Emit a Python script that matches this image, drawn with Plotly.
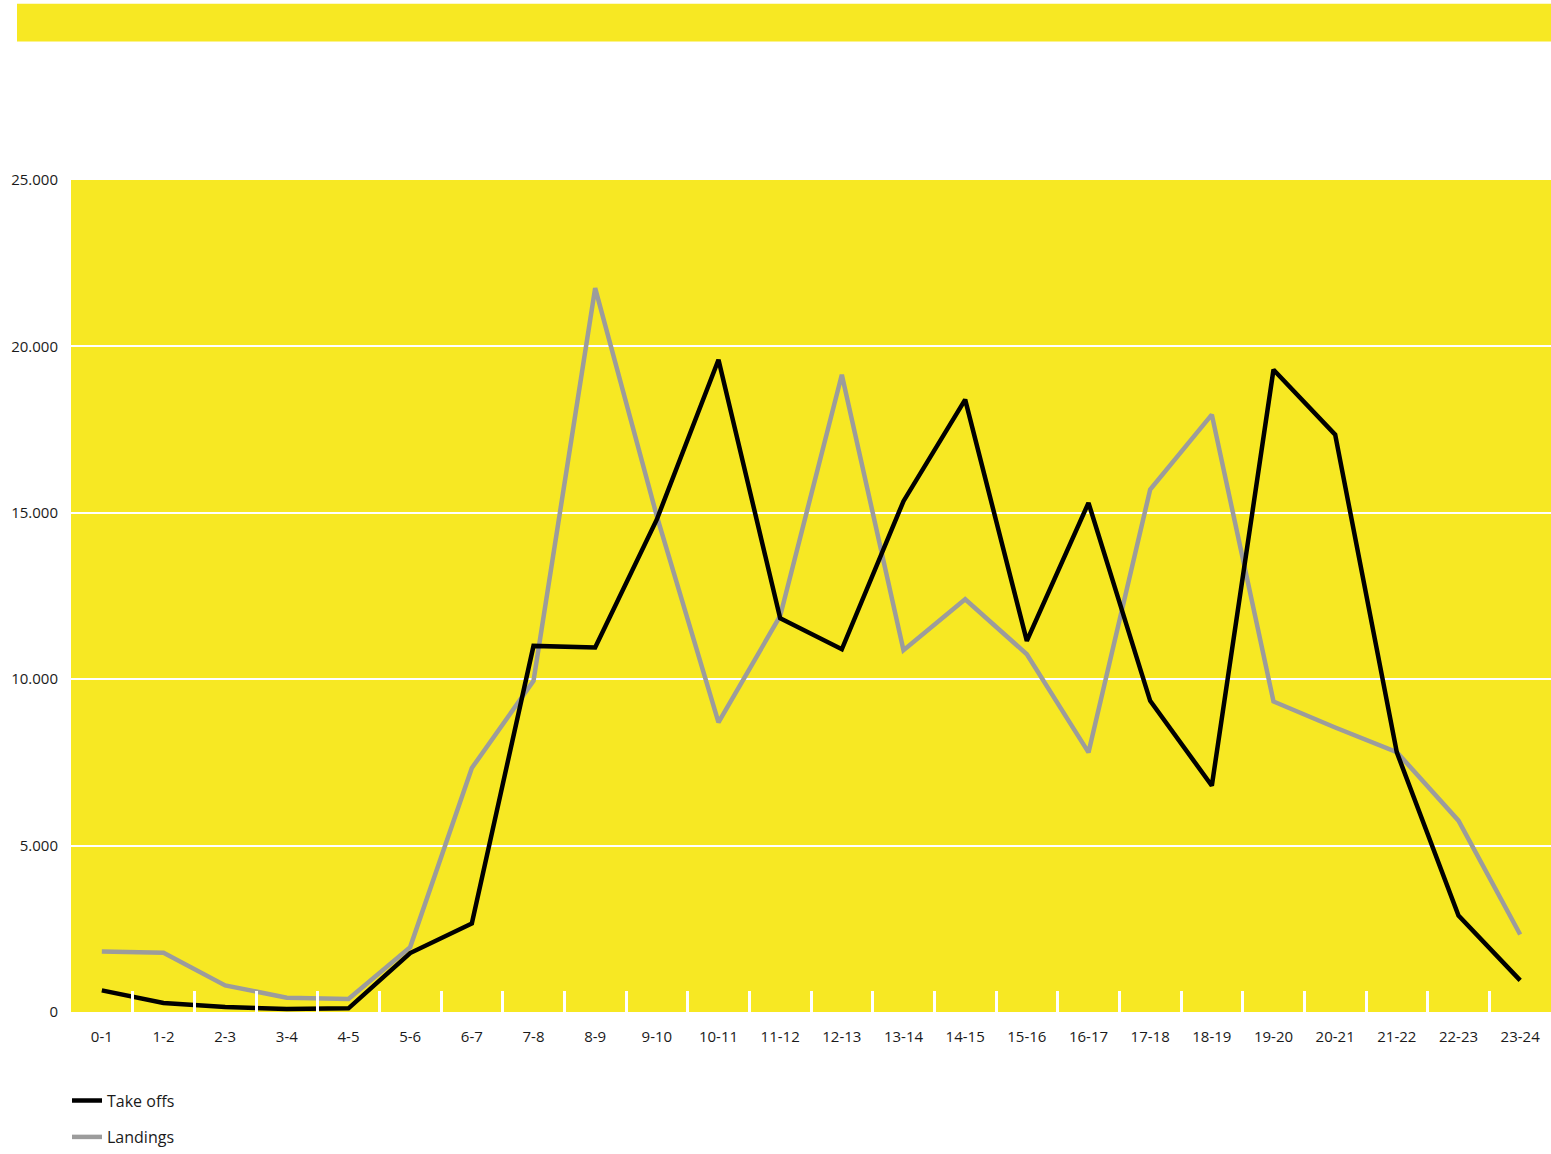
import plotly.graph_objects as go

# Hourly flight movements
hours = ["0-1", "1-2", "2-3", "3-4", "4-5", "5-6", "6-7", "7-8", "8-9", "9-10",
         "10-11", "11-12", "12-13", "13-14", "14-15", "15-16", "16-17", "17-18",
         "18-19", "19-20", "20-21", "21-22", "22-23", "23-24"]

take_offs = [650, 270, 150, 90, 110, 1770, 2660, 11000, 10950, 14800,
             19600, 11830, 10900, 15350, 18400, 11150, 15300, 9350,
             6800, 19300, 17350, 7800, 2900, 950]

landings = [1820, 1780, 800, 430, 390, 1950, 7330, 9950, 21750, 14900,
            8700, 11900, 19150, 10870, 12400, 10750, 7800, 15700,
            17950, 9330, 8550, 7810, 5750, 2330]

y_ticks = [0, 5000, 10000, 15000, 20000, 25000]

YELLOW = "#F7E823"
GREY = "#9C9C9C"
TEXT = "#1a1a1a"
FONT = "Open Sans"

fig = go.Figure()

# Grey series first so the black one is drawn on top
fig.add_trace(go.Scatter(
    x=hours, y=landings, name="Landings", mode="lines",
    line=dict(color=GREY, width=4.5), legend="legend2",
))
fig.add_trace(go.Scatter(
    x=hours, y=take_offs, name="Take offs", mode="lines",
    line=dict(color="black", width=4.5), legend="legend",
))

W, H = 1551, 1154
L, R, T, B = 71, 0, 180, 139
plot_w = W - L - R
plot_h = H - T - B

def px_x(px):
    return (px - L) / plot_w

def px_y(py):
    return (H - B - py) / plot_h

# Yellow banner across the top
fig.add_shape(
    type="rect", xref="paper", yref="paper",
    x0=px_x(17), x1=px_x(1551), y0=px_y(41), y1=px_y(3),
    fillcolor=YELLOW, line=dict(width=0), layer="below",
)

legend_common = dict(
    orientation="v", xanchor="left", yanchor="middle",
    bgcolor="rgba(0,0,0,0)", font=dict(family=FONT, size=16, color=TEXT),
    itemwidth=30,
)

fig.update_layout(
    width=W, height=H,
    margin=dict(l=L, r=R, t=T, b=B, pad=0),
    paper_bgcolor="white",
    plot_bgcolor=YELLOW,
    separators=",.",
    font=dict(family=FONT, size=15, color=TEXT),
    showlegend=True,
    legend=dict(x=px_x(67), y=px_y(1104), **legend_common),
    legend2=dict(x=px_x(67), y=px_y(1141), **legend_common),
    xaxis=dict(
        type="category",
        range=[-0.5, len(hours) - 0.5],
        showgrid=False, zeroline=False, showline=False,
        ticks="inside", tickson="boundaries", ticklen=21,
        tickcolor="white", tickwidth=2.5,
        tickfont=dict(family=FONT, size=15, color=TEXT),
        ticklabelstandoff=14,
    ),
    yaxis=dict(
        range=[0, 25000],
        tickvals=y_ticks, tickformat=",d",
        showgrid=True, gridcolor="white", gridwidth=2,
        zeroline=False, showline=False, ticks="",
        tickfont=dict(family=FONT, size=15, color=TEXT),
        ticklabelstandoff=12,
    ),
)

fig.write_html("out.html")
